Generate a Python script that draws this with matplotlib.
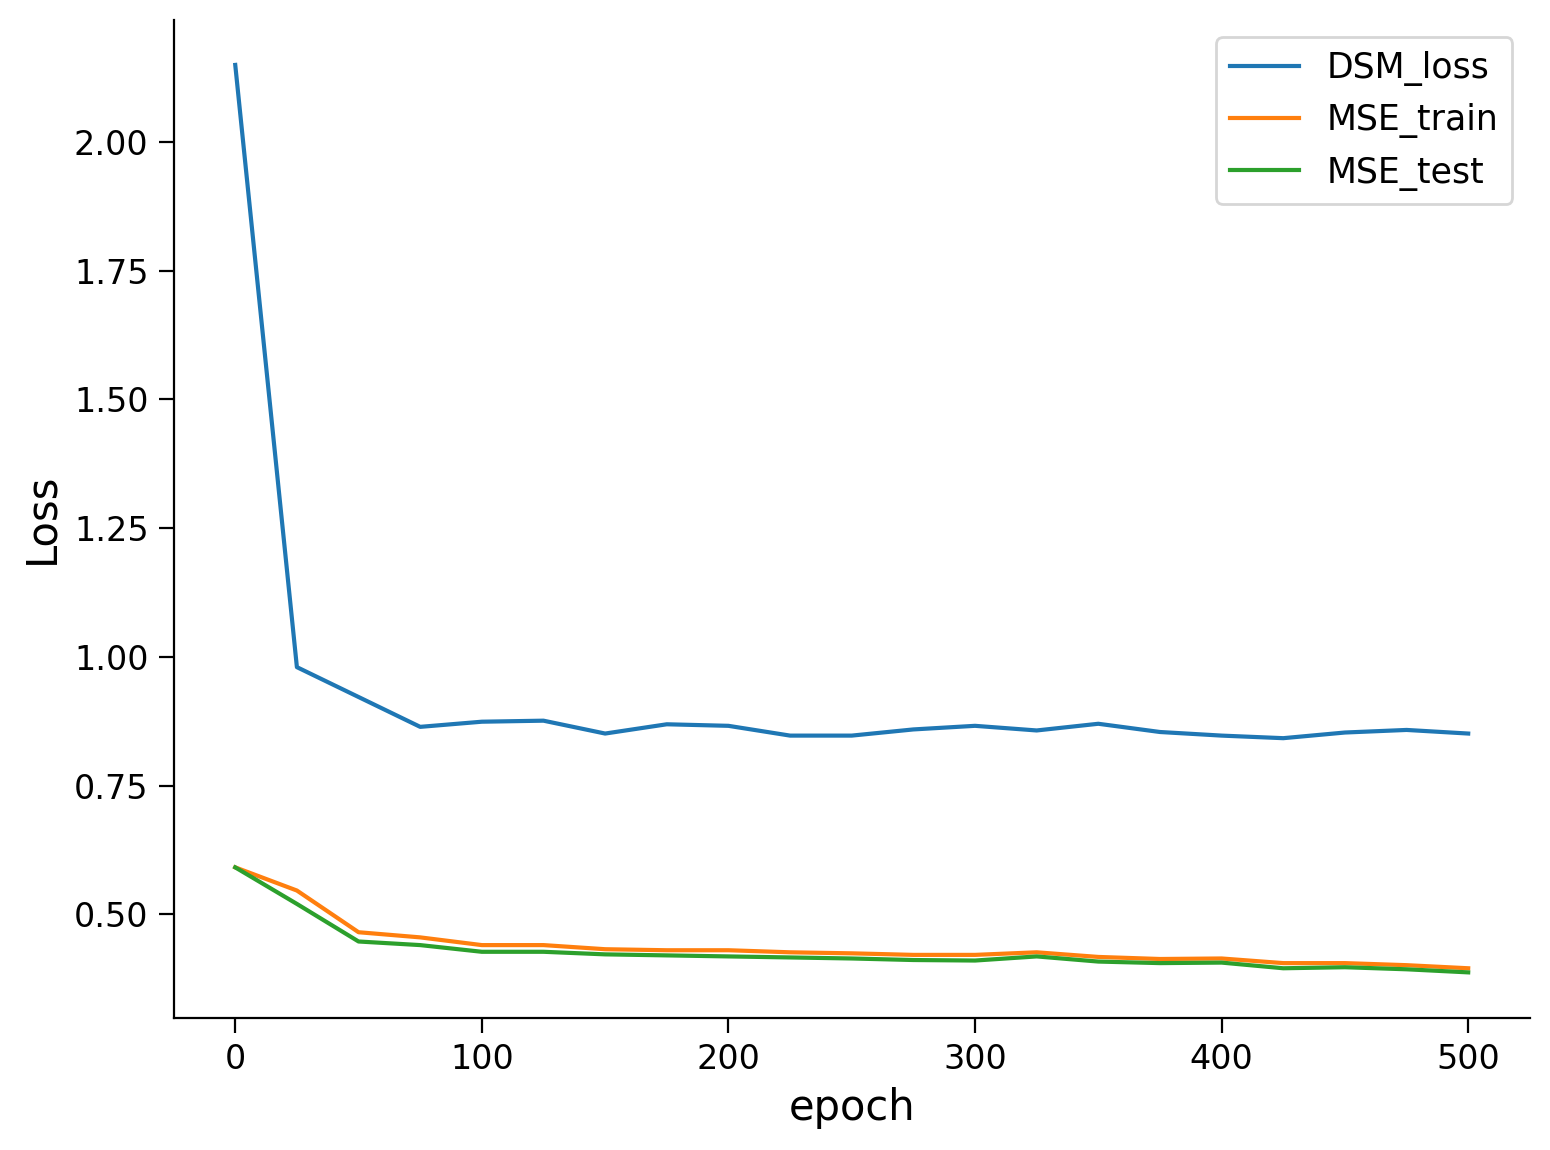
import matplotlib
matplotlib.use("Agg")
import matplotlib.pyplot as plt

epochs = [0, 25, 50, 75, 100, 125, 150, 175, 200, 225, 250,
          275, 300, 325, 350, 375, 400, 425, 450, 475, 500]
dsm_loss = [2.150, 0.980, 0.922, 0.864, 0.874, 0.876, 0.851, 0.869, 0.866, 0.847, 0.847,
            0.859, 0.866, 0.857, 0.870, 0.854, 0.847, 0.842, 0.853, 0.858, 0.851]
mse_train = [0.591, 0.546, 0.465, 0.455, 0.440, 0.440, 0.432, 0.430, 0.430, 0.426, 0.424,
             0.421, 0.421, 0.426, 0.417, 0.413, 0.414, 0.405, 0.405, 0.401, 0.395]
mse_test = [0.591, 0.520, 0.447, 0.440, 0.427, 0.427, 0.422, 0.420, 0.418, 0.416, 0.414,
            0.411, 0.410, 0.418, 0.408, 0.405, 0.406, 0.395, 0.397, 0.393, 0.387]

fig, ax = plt.subplots(figsize=(7.75, 5.75), dpi=200)
fig.subplots_adjust(left=0.112, right=0.987, top=0.983, bottom=0.115)

ax.plot(epochs, dsm_loss, label="DSM_loss")
ax.plot(epochs, mse_train, label="MSE_train")
ax.plot(epochs, mse_test, label="MSE_test")

ax.set_xlabel("epoch", fontsize=15)
ax.set_ylabel("Loss", fontsize=15)
ax.tick_params(labelsize=12, length=5.5)
ax.spines["top"].set_visible(False)
ax.spines["right"].set_visible(False)
ax.legend(fontsize=12.5)

fig.savefig("out.png", dpi=200)
plt.close(fig)
